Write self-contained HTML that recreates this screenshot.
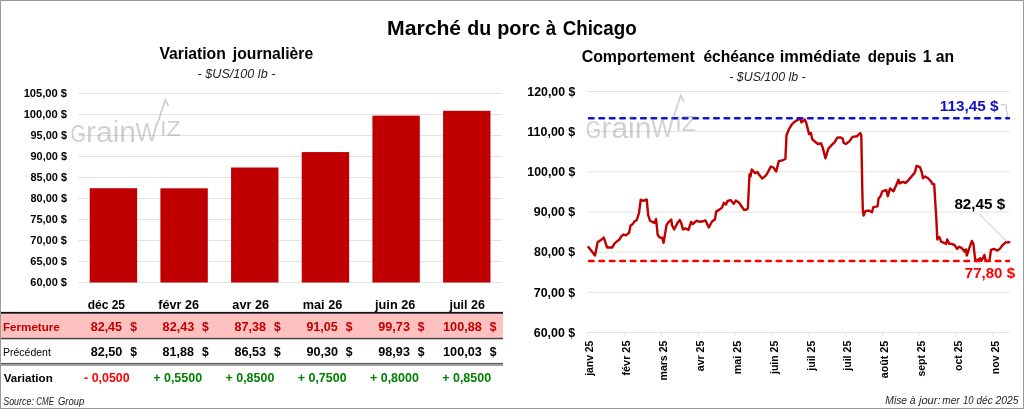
<!DOCTYPE html>
<html lang="fr"><head><meta charset="utf-8"><title>Marché du porc à Chicago</title>
<style>html,body{margin:0;padding:0;background:#fff}body{width:1024px;height:409px;overflow:hidden}svg{display:block;font-family:'Liberation Sans',sans-serif}text{white-space:pre}</style>
</head><body>
<svg width="1024" height="409" viewBox="0 0 1024 409">
<rect x="0" y="0" width="1024" height="409" fill="#fff"/>
<text y="34.50" font-size="20.20" font-weight="bold"><tspan x="387.00" textLength="74.13" lengthAdjust="spacingAndGlyphs">Marché</tspan> <tspan x="467.35" textLength="23.90" lengthAdjust="spacingAndGlyphs">du</tspan> <tspan x="497.15" textLength="43.07" lengthAdjust="spacingAndGlyphs">porc</tspan> <tspan x="545.70" textLength="10.45" lengthAdjust="spacingAndGlyphs">à</tspan> <tspan x="562.65" textLength="74.04" lengthAdjust="spacingAndGlyphs">Chicago</tspan></text>
<text y="59.00" font-size="16.80" font-weight="bold"><tspan x="159.45" textLength="66.30" lengthAdjust="spacingAndGlyphs">Variation</tspan> <tspan x="232.85" textLength="80.29" lengthAdjust="spacingAndGlyphs">journalière</tspan></text>
<text x="197.55" y="77.90" font-size="12.20" font-style="italic" fill="#222" textLength="77.83" lengthAdjust="spacingAndGlyphs">- $US/100 lb -</text>
<line x1="78" x2="502" y1="282.50" y2="282.50" stroke="#e2e2e2" stroke-width="1"/>
<text x="30.30" y="286.20" font-size="11.30" font-weight="bold" textLength="36.68" lengthAdjust="spacingAndGlyphs">60,00 $</text>
<line x1="78" x2="502" y1="261.50" y2="261.50" stroke="#e2e2e2" stroke-width="1"/>
<text x="30.30" y="265.20" font-size="11.30" font-weight="bold" textLength="36.68" lengthAdjust="spacingAndGlyphs">65,00 $</text>
<line x1="78" x2="502" y1="240.50" y2="240.50" stroke="#e2e2e2" stroke-width="1"/>
<text x="30.30" y="244.20" font-size="11.30" font-weight="bold" textLength="36.68" lengthAdjust="spacingAndGlyphs">70,00 $</text>
<line x1="78" x2="502" y1="219.50" y2="219.50" stroke="#e2e2e2" stroke-width="1"/>
<text x="30.30" y="223.20" font-size="11.30" font-weight="bold" textLength="36.68" lengthAdjust="spacingAndGlyphs">75,00 $</text>
<line x1="78" x2="502" y1="198.50" y2="198.50" stroke="#e2e2e2" stroke-width="1"/>
<text x="30.55" y="202.20" font-size="11.30" font-weight="bold" textLength="36.44" lengthAdjust="spacingAndGlyphs">80,00 $</text>
<line x1="78" x2="502" y1="177.50" y2="177.50" stroke="#e2e2e2" stroke-width="1"/>
<text x="30.55" y="181.20" font-size="11.30" font-weight="bold" textLength="36.44" lengthAdjust="spacingAndGlyphs">85,00 $</text>
<line x1="78" x2="502" y1="156.50" y2="156.50" stroke="#e2e2e2" stroke-width="1"/>
<text x="30.55" y="160.20" font-size="11.30" font-weight="bold" textLength="36.44" lengthAdjust="spacingAndGlyphs">90,00 $</text>
<line x1="78" x2="502" y1="135.50" y2="135.50" stroke="#e2e2e2" stroke-width="1"/>
<text x="30.55" y="139.20" font-size="11.30" font-weight="bold" textLength="36.44" lengthAdjust="spacingAndGlyphs">95,00 $</text>
<line x1="78" x2="502" y1="114.50" y2="114.50" stroke="#e2e2e2" stroke-width="1"/>
<text x="23.65" y="118.20" font-size="11.30" font-weight="bold" textLength="43.37" lengthAdjust="spacingAndGlyphs">100,00 $</text>
<line x1="78" x2="502" y1="93.50" y2="93.50" stroke="#e2e2e2" stroke-width="1"/>
<text x="23.65" y="97.20" font-size="11.30" font-weight="bold" textLength="43.37" lengthAdjust="spacingAndGlyphs">105,00 $</text>
<g fill="#808080" opacity="0.36">
<text x="70.40" y="142.20" font-size="23.6" textLength="15.3" lengthAdjust="spacingAndGlyphs">G</text>
<text x="86.00" y="142.20" font-size="30">rain</text>
<text x="135.60" y="141.20" font-size="25.5" textLength="22.6" lengthAdjust="spacingAndGlyphs">W</text>
<text x="159.90" y="136.00" font-size="21.6" textLength="20.8" lengthAdjust="spacingAndGlyphs">IZ</text>
<polyline fill="none" stroke="#808080" stroke-width="1.8" points="157.20,124.20 165.40,99.90 168.40,106.20"/>
</g>
<rect x="89.73" y="188.21" width="47.4" height="94.29" fill="#c00000"/>
<rect x="160.40" y="188.29" width="47.4" height="94.21" fill="#c00000"/>
<rect x="231.07" y="167.50" width="47.4" height="115.00" fill="#c00000"/>
<rect x="301.73" y="152.09" width="47.4" height="130.41" fill="#c00000"/>
<rect x="372.40" y="115.63" width="47.4" height="166.87" fill="#c00000"/>
<rect x="443.07" y="110.80" width="47.4" height="171.70" fill="#c00000"/>
<rect x="1" y="313.6" width="502" height="24.3" fill="#ffc0c0"/>
<rect x="1" y="311.9" width="502" height="1.8" fill="#111"/>
<rect x="1" y="337.8" width="502" height="1.5" fill="#444"/>
<rect x="1" y="362.9" width="502" height="1.7" fill="#5c5c5c"/>
<rect x="1" y="364.6" width="502" height="1.3" fill="#9c9c9c"/>
<text x="87.65" y="309.40" font-size="12.00" font-weight="bold" textLength="37.36" lengthAdjust="spacingAndGlyphs">déc 25</text>
<text x="158.25" y="309.40" font-size="12.00" font-weight="bold" textLength="40.74" lengthAdjust="spacingAndGlyphs">févr 26</text>
<text x="232.35" y="309.40" font-size="12.00" font-weight="bold" textLength="36.74" lengthAdjust="spacingAndGlyphs">avr 26</text>
<text x="302.80" y="309.40" font-size="12.00" font-weight="bold" textLength="39.47" lengthAdjust="spacingAndGlyphs">mai 26</text>
<text x="375.05" y="309.40" font-size="12.00" font-weight="bold" textLength="40.28" lengthAdjust="spacingAndGlyphs">juin 26</text>
<text x="449.50" y="309.40" font-size="12.00" font-weight="bold" textLength="35.38" lengthAdjust="spacingAndGlyphs">juil 26</text>
<text x="3.00" y="331.30" font-size="11.30" font-weight="bold" fill="#c00000" textLength="56.79" lengthAdjust="spacingAndGlyphs">Fermeture</text>
<text x="3.00" y="356.40" font-size="11.00" textLength="47.86" lengthAdjust="spacingAndGlyphs">Précédent</text>
<text x="3.75" y="381.90" font-size="11.30" font-weight="bold" textLength="48.99" lengthAdjust="spacingAndGlyphs">Variation</text>
<text x="90.70" y="331.00" font-size="12.50" font-weight="bold" fill="#c00000" textLength="31.38" lengthAdjust="spacingAndGlyphs">82,45</text>
<text x="130.15" y="330.90" font-size="12.80" font-weight="bold" fill="#c00000" textLength="6.76" lengthAdjust="spacingAndGlyphs">$</text>
<text x="90.70" y="356.10" font-size="12.50" font-weight="bold" textLength="31.64" lengthAdjust="spacingAndGlyphs">82,50</text>
<text x="130.15" y="356.00" font-size="12.80" font-weight="bold" textLength="6.76" lengthAdjust="spacingAndGlyphs">$</text>
<text x="84.05" y="382.20" font-size="12.50" font-weight="bold" fill="#ff0000" textLength="45.62" lengthAdjust="spacingAndGlyphs">- 0,0500</text>
<text x="162.60" y="331.00" font-size="12.50" font-weight="bold" fill="#c00000" textLength="31.64" lengthAdjust="spacingAndGlyphs">82,43</text>
<text x="202.05" y="330.90" font-size="12.80" font-weight="bold" fill="#c00000" textLength="6.76" lengthAdjust="spacingAndGlyphs">$</text>
<text x="162.60" y="356.10" font-size="12.50" font-weight="bold" textLength="31.38" lengthAdjust="spacingAndGlyphs">81,88</text>
<text x="202.05" y="356.00" font-size="12.80" font-weight="bold" textLength="6.76" lengthAdjust="spacingAndGlyphs">$</text>
<text x="153.25" y="382.20" font-size="12.50" font-weight="bold" fill="#008000" textLength="48.81" lengthAdjust="spacingAndGlyphs">+ 0,5500</text>
<text x="234.50" y="331.00" font-size="12.50" font-weight="bold" fill="#c00000" textLength="31.38" lengthAdjust="spacingAndGlyphs">87,38</text>
<text x="273.95" y="330.90" font-size="12.80" font-weight="bold" fill="#c00000" textLength="6.76" lengthAdjust="spacingAndGlyphs">$</text>
<text x="234.50" y="356.10" font-size="12.50" font-weight="bold" textLength="31.64" lengthAdjust="spacingAndGlyphs">86,53</text>
<text x="273.95" y="356.00" font-size="12.80" font-weight="bold" textLength="6.76" lengthAdjust="spacingAndGlyphs">$</text>
<text x="225.50" y="382.20" font-size="12.50" font-weight="bold" fill="#008000" textLength="48.81" lengthAdjust="spacingAndGlyphs">+ 0,8500</text>
<text x="306.40" y="331.00" font-size="12.50" font-weight="bold" fill="#c00000" textLength="31.38" lengthAdjust="spacingAndGlyphs">91,05</text>
<text x="345.85" y="330.90" font-size="12.80" font-weight="bold" fill="#c00000" textLength="6.76" lengthAdjust="spacingAndGlyphs">$</text>
<text x="306.40" y="356.10" font-size="12.50" font-weight="bold" textLength="31.64" lengthAdjust="spacingAndGlyphs">90,30</text>
<text x="345.85" y="356.00" font-size="12.80" font-weight="bold" textLength="6.76" lengthAdjust="spacingAndGlyphs">$</text>
<text x="297.75" y="382.20" font-size="12.50" font-weight="bold" fill="#008000" textLength="48.81" lengthAdjust="spacingAndGlyphs">+ 0,7500</text>
<text x="378.30" y="331.00" font-size="12.50" font-weight="bold" fill="#c00000" textLength="31.64" lengthAdjust="spacingAndGlyphs">99,73</text>
<text x="417.75" y="330.90" font-size="12.80" font-weight="bold" fill="#c00000" textLength="6.76" lengthAdjust="spacingAndGlyphs">$</text>
<text x="378.30" y="356.10" font-size="12.50" font-weight="bold" textLength="31.64" lengthAdjust="spacingAndGlyphs">98,93</text>
<text x="417.75" y="356.00" font-size="12.80" font-weight="bold" textLength="6.76" lengthAdjust="spacingAndGlyphs">$</text>
<text x="370.00" y="382.20" font-size="12.50" font-weight="bold" fill="#008000" textLength="48.81" lengthAdjust="spacingAndGlyphs">+ 0,8000</text>
<text x="443.05" y="331.00" font-size="12.50" font-weight="bold" fill="#c00000" textLength="38.75" lengthAdjust="spacingAndGlyphs">100,88</text>
<text x="489.65" y="330.90" font-size="12.80" font-weight="bold" fill="#c00000" textLength="6.76" lengthAdjust="spacingAndGlyphs">$</text>
<text x="443.05" y="356.10" font-size="12.50" font-weight="bold" textLength="38.75" lengthAdjust="spacingAndGlyphs">100,03</text>
<text x="489.65" y="356.00" font-size="12.80" font-weight="bold" textLength="6.76" lengthAdjust="spacingAndGlyphs">$</text>
<text x="442.25" y="382.20" font-size="12.50" font-weight="bold" fill="#008000" textLength="48.81" lengthAdjust="spacingAndGlyphs">+ 0,8500</text>
<text y="404.60" font-size="10.00" font-style="italic" fill="#222"><tspan x="3.25" textLength="30.64" lengthAdjust="spacingAndGlyphs">Source:</tspan> <tspan x="36.30" textLength="17.69" lengthAdjust="spacingAndGlyphs">CME</tspan> <tspan x="57.90" textLength="26.36" lengthAdjust="spacingAndGlyphs">Group</tspan></text>
<text y="61.80" font-size="16.80" font-weight="bold"><tspan x="581.65" textLength="113.15" lengthAdjust="spacingAndGlyphs">Comportement</tspan> <tspan x="703.40" textLength="71.26" lengthAdjust="spacingAndGlyphs">échéance</tspan> <tspan x="779.70" textLength="80.82" lengthAdjust="spacingAndGlyphs">immédiate</tspan> <tspan x="867.70" textLength="48.86" lengthAdjust="spacingAndGlyphs">depuis</tspan> <tspan x="922.70" textLength="31.46" lengthAdjust="spacingAndGlyphs">1 an</tspan></text>
<text x="729.25" y="80.50" font-size="12.20" font-style="italic" fill="#222" textLength="76.47" lengthAdjust="spacingAndGlyphs">- $US/100 lb -</text>
<line x1="587.7" x2="1009.5" y1="332.50" y2="332.50" stroke="#e2e2e2" stroke-width="1"/>
<text x="533.85" y="336.80" font-size="12.40" font-weight="bold" textLength="41.34" lengthAdjust="spacingAndGlyphs">60,00 $</text>
<line x1="587.7" x2="1009.5" y1="292.33" y2="292.33" stroke="#e2e2e2" stroke-width="1"/>
<text x="533.85" y="296.63" font-size="12.40" font-weight="bold" textLength="41.34" lengthAdjust="spacingAndGlyphs">70,00 $</text>
<line x1="587.7" x2="1009.5" y1="252.17" y2="252.17" stroke="#e2e2e2" stroke-width="1"/>
<text x="534.10" y="256.47" font-size="12.40" font-weight="bold" textLength="41.09" lengthAdjust="spacingAndGlyphs">80,00 $</text>
<line x1="587.7" x2="1009.5" y1="212.00" y2="212.00" stroke="#e2e2e2" stroke-width="1"/>
<text x="533.85" y="216.30" font-size="12.40" font-weight="bold" textLength="41.34" lengthAdjust="spacingAndGlyphs">90,00 $</text>
<line x1="587.7" x2="1009.5" y1="171.83" y2="171.83" stroke="#e2e2e2" stroke-width="1"/>
<text x="527.35" y="176.13" font-size="12.40" font-weight="bold" textLength="47.98" lengthAdjust="spacingAndGlyphs">100,00 $</text>
<line x1="587.7" x2="1009.5" y1="131.67" y2="131.67" stroke="#e2e2e2" stroke-width="1"/>
<text x="527.35" y="135.97" font-size="12.40" font-weight="bold" textLength="47.82" lengthAdjust="spacingAndGlyphs">110,00 $</text>
<line x1="587.7" x2="1009.5" y1="91.50" y2="91.50" stroke="#e2e2e2" stroke-width="1"/>
<text x="527.35" y="95.80" font-size="12.40" font-weight="bold" textLength="47.98" lengthAdjust="spacingAndGlyphs">120,00 $</text>
<line x1="587.75" x2="587.75" y1="332" y2="336" stroke="#e2e2e2" stroke-width="1"/>
<line x1="624.60" x2="624.60" y1="332" y2="336" stroke="#e2e2e2" stroke-width="1"/>
<line x1="661.45" x2="661.45" y1="332" y2="336" stroke="#e2e2e2" stroke-width="1"/>
<line x1="698.30" x2="698.30" y1="332" y2="336" stroke="#e2e2e2" stroke-width="1"/>
<line x1="735.15" x2="735.15" y1="332" y2="336" stroke="#e2e2e2" stroke-width="1"/>
<line x1="772.00" x2="772.00" y1="332" y2="336" stroke="#e2e2e2" stroke-width="1"/>
<line x1="808.85" x2="808.85" y1="332" y2="336" stroke="#e2e2e2" stroke-width="1"/>
<line x1="845.70" x2="845.70" y1="332" y2="336" stroke="#e2e2e2" stroke-width="1"/>
<line x1="882.55" x2="882.55" y1="332" y2="336" stroke="#e2e2e2" stroke-width="1"/>
<line x1="919.40" x2="919.40" y1="332" y2="336" stroke="#e2e2e2" stroke-width="1"/>
<line x1="956.25" x2="956.25" y1="332" y2="336" stroke="#e2e2e2" stroke-width="1"/>
<line x1="993.10" x2="993.10" y1="332" y2="336" stroke="#e2e2e2" stroke-width="1"/>
<text transform="translate(593.45,341.00) rotate(-90)" x="-34.75" y="0.00" font-size="11.30" font-weight="bold" textLength="35.06" lengthAdjust="spacingAndGlyphs">janv 25</text>
<text transform="translate(630.30,341.00) rotate(-90)" x="-34.50" y="0.00" font-size="11.30" font-weight="bold" textLength="34.91" lengthAdjust="spacingAndGlyphs">févr 25</text>
<text transform="translate(667.15,341.00) rotate(-90)" x="-39.50" y="0.00" font-size="11.30" font-weight="bold" textLength="39.91" lengthAdjust="spacingAndGlyphs">mars 25</text>
<text transform="translate(704.00,341.00) rotate(-90)" x="-30.25" y="0.00" font-size="11.30" font-weight="bold" textLength="30.63" lengthAdjust="spacingAndGlyphs">avr 25</text>
<text transform="translate(740.85,341.00) rotate(-90)" x="-33.25" y="0.00" font-size="11.30" font-weight="bold" textLength="33.62" lengthAdjust="spacingAndGlyphs">mai 25</text>
<text transform="translate(777.70,341.00) rotate(-90)" x="-33.00" y="0.00" font-size="11.30" font-weight="bold" textLength="33.29" lengthAdjust="spacingAndGlyphs">juin 25</text>
<text transform="translate(814.55,341.00) rotate(-90)" x="-29.75" y="0.00" font-size="11.30" font-weight="bold" textLength="30.03" lengthAdjust="spacingAndGlyphs">juil 25</text>
<text transform="translate(851.40,341.00) rotate(-90)" x="-29.75" y="0.00" font-size="11.30" font-weight="bold" textLength="30.03" lengthAdjust="spacingAndGlyphs">juil 25</text>
<text transform="translate(888.25,341.00) rotate(-90)" x="-37.25" y="0.00" font-size="11.30" font-weight="bold" textLength="37.53" lengthAdjust="spacingAndGlyphs">août 25</text>
<text transform="translate(925.10,341.00) rotate(-90)" x="-35.50" y="0.00" font-size="11.30" font-weight="bold" textLength="35.86" lengthAdjust="spacingAndGlyphs">sept 25</text>
<text transform="translate(961.95,341.00) rotate(-90)" x="-30.00" y="0.00" font-size="11.30" font-weight="bold" textLength="30.34" lengthAdjust="spacingAndGlyphs">oct 25</text>
<text transform="translate(998.80,341.00) rotate(-90)" x="-33.25" y="0.00" font-size="11.30" font-weight="bold" textLength="33.48" lengthAdjust="spacingAndGlyphs">nov 25</text>
<polyline fill="none" stroke="#c00000" stroke-width="2.4" stroke-linejoin="round" stroke-linecap="round" points="588.4,247.1 595.0,255.4 597.6,242.2 601.6,239.4 603.8,237.6 607.1,247.5 612.1,247.5 614.8,243.1 619.2,239.8 621.4,236.1 623.6,234.5 625.8,235.4 629.1,232.8 630.6,225.5 632.8,224.0 634.1,221.8 636.8,220.0 639.0,213.0 640.7,199.8 643.4,200.9 646.7,199.4 648.2,215.2 650.0,220.7 654.4,222.9 656.1,219.1 657.7,235.0 659.9,237.6 662.1,237.6 663.6,242.7 666.5,225.1 668.7,221.8 671.3,219.6 672.0,225.1 674.2,229.5 677.5,222.9 679.7,220.0 681.2,222.9 683.0,229.5 685.2,228.4 688.5,229.9 691.1,221.8 692.9,224.0 696.6,220.7 699.5,221.8 702.8,221.3 705.5,220.4 708.8,227.4 712.1,221.5 715.0,219.3 716.1,211.6 719.8,209.4 722.0,207.6 723.8,202.8 726.0,204.5 727.5,201.0 730.8,200.1 733.6,203.9 735.8,200.6 739.1,202.8 741.8,206.7 744.0,209.8 746.2,209.8 747.9,208.3 749.5,174.2 750.6,176.4 751.7,169.4 755.0,173.1 757.6,172.0 758.9,174.6 762.2,178.6 766.0,175.3 768.2,171.6 770.8,166.5 773.5,167.6 776.2,171.5 778.8,161.2 782.0,160.5 785.4,159.0 786.5,135.2 788.7,129.7 792.0,124.2 795.3,121.3 798.6,119.4 800.8,119.4 801.4,122.4 803.4,120.9 804.7,119.4 806.3,123.1 809.1,134.1 810.9,133.0 812.2,139.1 815.1,141.8 817.9,144.0 821.0,143.3 822.8,147.9 825.4,158.3 828.3,148.8 831.6,145.1 834.9,141.8 837.1,137.8 840.4,137.4 842.6,138.5 843.7,142.9 845.9,144.0 849.6,141.1 852.5,136.9 856.9,136.3 860.2,133.0 861.3,135.2 862.3,190.0 862.8,209.4 863.6,215.5 865.4,211.1 868.7,210.5 872.0,212.2 873.3,207.2 877.5,206.3 878.6,198.4 880.8,195.7 882.3,191.3 886.3,190.0 887.8,196.2 890.0,188.5 893.5,191.3 896.2,185.2 898.4,179.7 899.5,183.4 902.8,181.9 905.4,183.0 908.3,180.3 911.6,176.4 914.9,172.4 916.6,165.8 919.9,167.2 921.7,172.0 923.0,178.2 925.2,176.4 928.1,178.2 931.4,181.9 932.5,184.1 934.2,184.1 935.3,202.8 936.3,218.0 937.3,239.5 938.2,237.3 939.5,237.3 941.1,241.7 943.9,242.8 946.1,243.9 947.2,239.5 949.4,243.9 952.1,243.9 954.9,245.4 957.1,248.9 959.3,246.7 962.0,248.3 964.6,251.6 965.9,249.4 966.8,255.5 969.2,248.3 971.9,241.0 973.4,243.9 975.2,259.9 977.8,259.9 980.2,258.2 981.3,260.8 982.9,258.2 984.4,254.9 985.7,260.8 989.5,260.4 991.0,249.8 993.9,248.9 997.2,250.5 999.8,248.9 1002.7,245.0 1006.0,242.1 1009.3,242.3"/>
<line x1="589" x2="1009" y1="118.25" y2="118.25" stroke="#1414cc" stroke-width="2.5" stroke-linecap="round" stroke-dasharray="4.6 5.83"/>
<line x1="589" x2="1009" y1="260.9" y2="260.9" stroke="#ff0000" stroke-width="2.5" stroke-linecap="round" stroke-dasharray="4.6 5.83"/>
<g fill="#808080" opacity="0.36">
<text x="585.80" y="137.60" font-size="23.6" textLength="15.3" lengthAdjust="spacingAndGlyphs">G</text>
<text x="601.40" y="137.60" font-size="30">rain</text>
<text x="651.00" y="136.60" font-size="25.5" textLength="22.6" lengthAdjust="spacingAndGlyphs">W</text>
<text x="675.30" y="131.40" font-size="21.6" textLength="20.8" lengthAdjust="spacingAndGlyphs">IZ</text>
<polyline fill="none" stroke="#808080" stroke-width="1.8" points="672.60,119.60 680.80,95.30 683.80,101.60"/>
</g>
<text x="939.75" y="111.30" font-size="15.30" font-weight="bold" fill="#1010c8" textLength="58.70" lengthAdjust="spacingAndGlyphs">113,45 $</text>
<polyline fill="none" stroke="#bfbfbf" stroke-width="1" points="1000.7,104.8 1005.8,104.8 1007.6,117"/>
<text x="954.40" y="208.70" font-size="15.30" font-weight="bold" textLength="50.79" lengthAdjust="spacingAndGlyphs">82,45 $</text>
<line x1="979" y1="213.8" x2="1007" y2="241.7" stroke="#bfbfbf" stroke-width="1"/>
<text x="964.80" y="278.00" font-size="15.30" font-weight="bold" fill="#ff0000" textLength="50.28" lengthAdjust="spacingAndGlyphs">77,80 $</text>
<text y="404.30" font-size="10.00" font-style="italic" fill="#222"><tspan x="885.35" textLength="21.74" lengthAdjust="spacingAndGlyphs">Mise</tspan> <tspan x="909.75" textLength="5.79" lengthAdjust="spacingAndGlyphs">à</tspan> <tspan x="918.95" textLength="21.61" lengthAdjust="spacingAndGlyphs">jour:</tspan> <tspan x="942.35" textLength="17.28" lengthAdjust="spacingAndGlyphs">mer</tspan> <tspan x="963.05" textLength="10.56" lengthAdjust="spacingAndGlyphs">10</tspan> <tspan x="976.55" textLength="16.07" lengthAdjust="spacingAndGlyphs">déc</tspan> <tspan x="995.60" textLength="22.90" lengthAdjust="spacingAndGlyphs">2025</tspan></text>
<rect x="0.5" y="0.5" width="1023" height="408" fill="none" stroke="#999" stroke-width="1"/>
</svg>
</body></html>
